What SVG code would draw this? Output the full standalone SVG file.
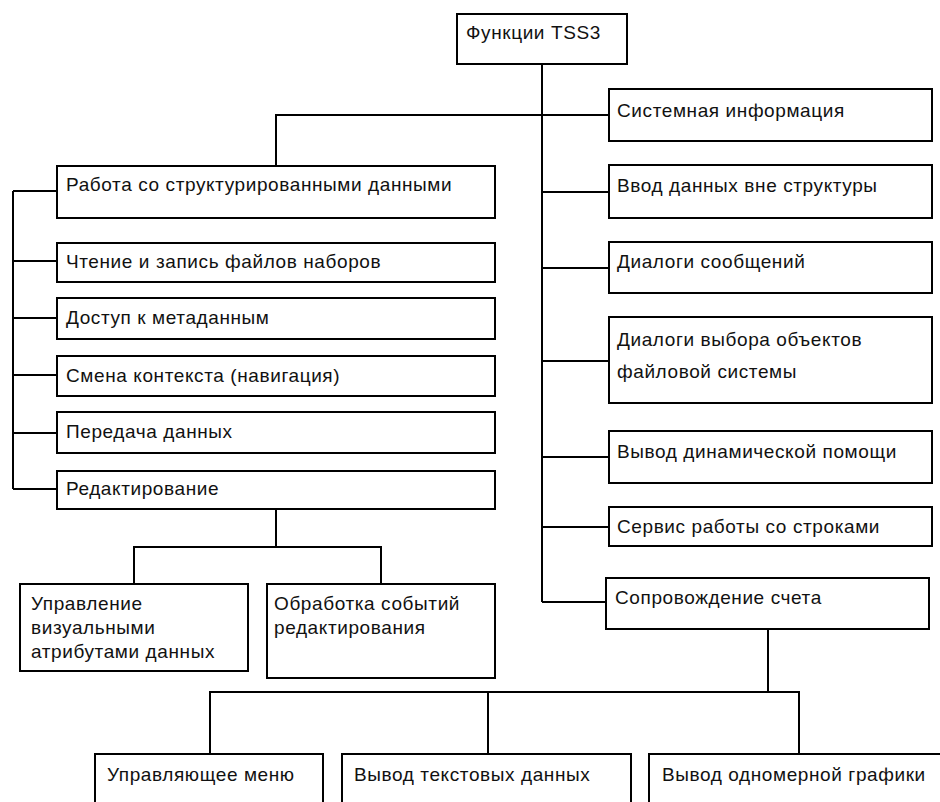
<svg xmlns="http://www.w3.org/2000/svg" width="940" height="802" viewBox="0 0 940 802">
<style>
.box{fill:#fff;stroke:#000;stroke-width:2}
.ln{fill:none;stroke:#000;stroke-width:2}
text{font-family:"Liberation Sans",Arial,sans-serif;font-size:19px;letter-spacing:0.6px;fill:#111}
</style>
<rect width="940" height="802" fill="#fff"/>
<g id="connectors" class="ln">
<path d="M542 64V602"/>
<path d="M276 166V115H609"/>
<path d="M542 192H609M542 268H609M542 361H609M542 457H609M542 527H609M542 602H606"/>
<path d="M13 191V489M13 191H57M13 261H57M13 318H57M13 375H57M13 433H57M13 489H57"/>
<path d="M276 509V547M134 584V547H381V584"/>
<path d="M768 629V692M210 754V692H799V754M488 692V754"/>
</g>
<g id="n-root"><rect class="box" x="457" y="14" width="170" height="50"/><text x="466" y="39">Функции TSS3</text></g>
<g id="n-sys"><rect class="box" x="609" y="89" width="323" height="52"/><text x="617" y="117">Системная информация</text></g>
<g id="n-input"><rect class="box" x="609" y="165" width="323" height="53"/><text x="617" y="192">Ввод данных вне структуры</text></g>
<g id="n-msg"><rect class="box" x="609" y="242" width="323" height="51"/><text x="617" y="268">Диалоги сообщений</text></g>
<g id="n-fs"><rect class="box" x="609" y="317" width="323" height="86"/><text x="617" y="346">Диалоги выбора объектов</text><text x="617" y="378">файловой системы</text></g>
<g id="n-help"><rect class="box" x="609" y="431" width="323" height="52"/><text x="617" y="458">Вывод динамической помощи</text></g>
<g id="n-str"><rect class="box" x="609" y="507" width="323" height="39"/><text x="617" y="533">Сервис работы со строками</text></g>
<g id="n-acc"><rect class="box" x="606" y="578" width="323" height="51"/><text x="615" y="604">Сопровождение счета</text></g>
<g id="n-struct"><rect class="box" x="57" y="166" width="438" height="52"/><text x="66" y="191">Работа со структурированными данными</text></g>
<g id="n-rw"><rect class="box" x="57" y="243" width="438" height="39"/><text x="66" y="268">Чтение и запись файлов наборов</text></g>
<g id="n-meta"><rect class="box" x="57" y="298" width="438" height="41"/><text x="66" y="324">Доступ к метаданным</text></g>
<g id="n-nav"><rect class="box" x="57" y="356" width="438" height="40"/><text x="66" y="382">Смена контекста (навигация)</text></g>
<g id="n-xfer"><rect class="box" x="57" y="412" width="438" height="41"/><text x="66" y="438">Передача данных</text></g>
<g id="n-edit"><rect class="box" x="57" y="471" width="438" height="38"/><text x="66" y="495">Редактирование</text></g>
<g id="n-vis"><rect class="box" x="20" y="584" width="228" height="87"/><text x="31" y="610">Управление</text><text x="31" y="634">визуальными</text><text x="31" y="658">атрибутами данных</text></g>
<g id="n-evt"><rect class="box" x="267" y="584" width="228" height="94"/><text x="274" y="610">Обработка событий</text><text x="274" y="634">редактирования</text></g>
<g id="n-menu"><rect class="box" x="95" y="754" width="228" height="60"/><text x="107" y="781">Управляющее меню</text></g>
<g id="n-text"><rect class="box" x="342" y="754" width="289" height="60"/><text x="354" y="781">Вывод текстовых данных</text></g>
<g id="n-graph"><rect class="box" x="649" y="754" width="300" height="60"/><text x="662" y="781">Вывод одномерной графики</text></g>
</svg>
